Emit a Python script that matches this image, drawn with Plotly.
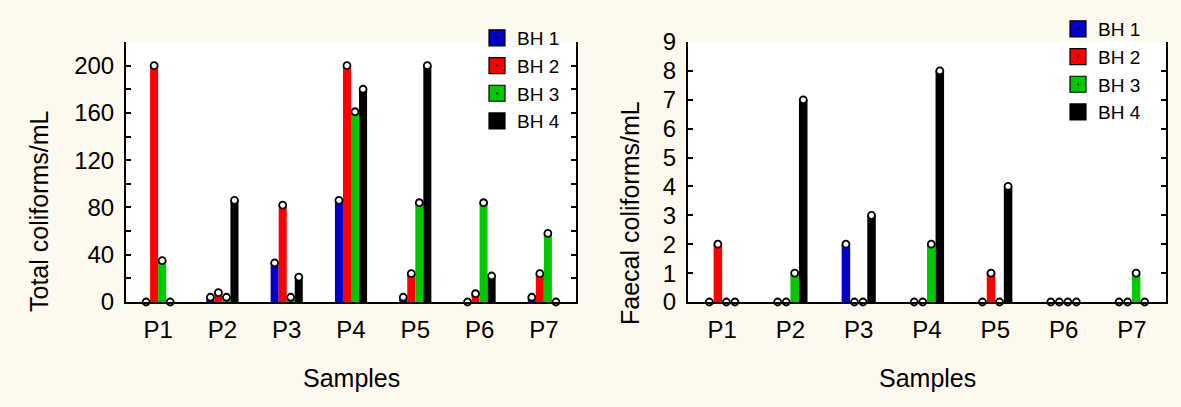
import plotly.graph_objects as go

# ---------------- data ----------------
samples = ["P1", "P2", "P3", "P4", "P5", "P6", "P7"]
series_names = ["BH 1", "BH 2", "BH 3", "BH 4"]

total_bh1 = [0, 4, 33, 86, 4, 0, 4]
total_bh2 = [200, 8, 82, 200, 24, 7, 24]
total_bh3 = [35, 4, 4, 161, 84, 84, 58]
total_bh4 = [0, 86, 21, 180, 200, 22, 0]

faecal_bh1 = [0, 0, 2, 0, 0, 0, 0]
faecal_bh2 = [2, 0, 0, 0, 1, 0, 0]
faecal_bh3 = [0, 1, 0, 2, 0, 0, 1]
faecal_bh4 = [0, 7, 3, 8, 4, 0, 0]

total_series = [total_bh1, total_bh2, total_bh3, total_bh4]
faecal_series = [faecal_bh1, faecal_bh2, faecal_bh3, faecal_bh4]

total_ticks = [0, 40, 80, 120, 160, 200]
faecal_ticks = [0, 1, 2, 3, 4, 5, 6, 7, 8, 9]

# ---------------- style ----------------
colors = ["#0000C8", "#FF0000", "#00C800", "#000000"]
CREAM = "#FDF9EE"
FONT = "Liberation Sans, Arial, sans-serif"
W, H = 1181, 407

fig = go.Figure()

for i, name in enumerate(series_names):
    for (vals, xa, ya, leg) in [(total_series[i], "x", "y", "legend"),
                                (faecal_series[i], "x2", "y2", "legend2")]:
        fig.add_trace(go.Bar(
            x=samples, y=vals, xaxis=xa, yaxis=ya, name=name,
            offsetgroup=name, marker=dict(color=colors[i], line=dict(width=0)),
            showlegend=False))
        fig.add_trace(go.Scatter(
            x=samples, y=vals, xaxis=xa, yaxis=ya, name=name,
            offsetgroup=name, mode="markers", cliponaxis=False,
            marker=dict(symbol="circle", size=7, color="white",
                        line=dict(color="black", width=1.8)),
            showlegend=False))
        # legend entry
        fig.add_trace(go.Scatter(
            x=[None], y=[None], xaxis=xa, yaxis=ya, name=name,
            offsetgroup=name, mode="markers", legend=leg,
            marker=dict(symbol="square-dot", size=18, color=colors[i],
                        line=dict(color="black", width=1.2)),
            showlegend=True))

axis_common = dict(
    showline=True, linecolor="black", linewidth=2,
    tickfont=dict(family=FONT, size=24, color="black"),
    showgrid=False, zeroline=False, automargin=False,
)

fig.update_layout(
    width=W, height=H, autosize=False,
    margin=dict(l=0, r=0, t=0, b=0, pad=0, autoexpand=False),
    paper_bgcolor=CREAM,
    plot_bgcolor="white",
    font=dict(family=FONT, color="black"),
    barmode="group", bargap=0.5, bargroupgap=0,
    scattermode="group", scattergap=0.5,
    xaxis=dict(domain=[126 / W, 576 / W], anchor="y", type="category",
               range=[-0.5, 6.5], ticks="", ticklabelstandoff=5, **axis_common),
    yaxis=dict(domain=[(H - 302) / H, (H - 42) / H], anchor="x",
               range=[0, 220], tickvals=total_ticks, ticks="inside",
               ticklen=5, tickwidth=1.5, tickcolor="black", mirror="ticks",
               ticklabelstandoff=5,
               minor=dict(dtick=20, tick0=0, ticks="inside", ticklen=5,
                          tickwidth=1.5, tickcolor="black"),
               **axis_common),
    xaxis2=dict(domain=[688 / W, 1166 / W], anchor="y2", type="category",
                range=[-0.5, 6.5], ticks="", ticklabelstandoff=5, **axis_common),
    yaxis2=dict(domain=[(H - 302) / H, (H - 42) / H], anchor="x2",
                range=[0, 9], tickvals=faecal_ticks, ticks="inside",
                ticklen=5, tickwidth=1.5, tickcolor="black", mirror="ticks",
                ticklabelstandoff=5, **axis_common),
    legend=dict(x=477 / W, y=1 - 19 / H, xanchor="left", yanchor="top",
                bgcolor="rgba(0,0,0,0)", borderwidth=0,
                font=dict(family=FONT, size=19, color="black"),
                itemsizing="trace"),
    legend2=dict(x=1058 / W, y=1 - 10 / H, xanchor="left", yanchor="top",
                 bgcolor="rgba(0,0,0,0)", borderwidth=0,
                 font=dict(family=FONT, size=19, color="black"),
                 itemsizing="trace"),
    annotations=[
        dict(text="Samples", xref="x domain", yref="paper", x=0.5, y=(H - 378) / H,
             xanchor="center", yanchor="middle", showarrow=False,
             font=dict(family=FONT, size=25, color="black")),
        dict(text="Samples", xref="x2 domain", yref="paper", x=0.5, y=(H - 378) / H,
             xanchor="center", yanchor="middle", showarrow=False,
             font=dict(family=FONT, size=25, color="black")),
        dict(text="Total coliforms/mL", xref="paper", yref="paper",
             x=39 / W, y=(H - 211) / H, textangle=-90,
             xanchor="center", yanchor="middle", showarrow=False,
             font=dict(family=FONT, size=25, color="black")),
        dict(text="Faecal coliforms/mL", xref="paper", yref="paper",
             x=630 / W, y=(H - 213) / H, textangle=-90,
             xanchor="center", yanchor="middle", showarrow=False,
             font=dict(family=FONT, size=25, color="black")),
    ],
)

fig.write_html(
    "out.html",
    config={"responsive": False, "displayModeBar": False},
    post_script="document.body.style.margin='0';document.body.style.overflow='hidden';",
)
